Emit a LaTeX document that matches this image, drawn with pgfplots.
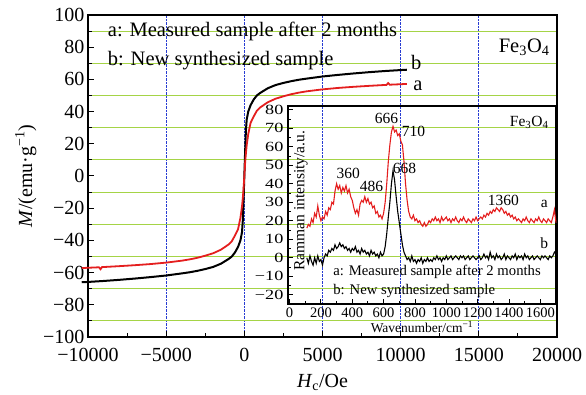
\documentclass[border=0pt]{standalone}
\usepackage{fontspec}
\setmainfont{Liberation Serif}
\usepackage{pgfplots}
\pgfplotsset{compat=1.18}

\definecolor{gridgreen}{RGB}{165,212,70}
\definecolor{gridblue}{RGB}{40,60,210}
\definecolor{curvered}{RGB}{228,30,30}

\newcommand{\fs}[1]{\fontsize{#1}{#1}\selectfont}

% Magnetization loops M(H)
\pgfplotstableread{
H M
-10400 -66.0
-10000 -65.8
-9000 -65.2
-8000 -64.5
-7000 -63.7
-6000 -62.8
-5000 -61.8
-4000 -60.5
-3500 -59.8
-3000 -58.9
-2500 -57.8
-2000 -56.5
-1500 -54.5
-1000 -51.5
-800 -50.0
-600 -47.5
-400 -44.0
-250 -40.0
-150 -35.0
-100 -28.0
-50 -15.0
0 0.0
50 15.0
100 28.0
150 35.0
250 40.0
400 44.0
600 47.5
800 50.0
1000 51.5
1500 54.5
2000 56.5
2500 57.8
3000 58.9
3500 59.8
4000 60.5
5000 61.8
6000 62.8
7000 63.7
8000 64.5
9000 65.2
10000 65.8
10400 66.0
}\loopb

\pgfplotstableread{
H M
-10400 -57.2
-10000 -57.0
-9300 -56.7
-9200 -57.9
-9100 -56.6
-8000 -56.0
-7000 -55.4
-6000 -54.7
-5000 -53.8
-4000 -52.6
-3500 -51.8
-3000 -50.8
-2500 -49.5
-2000 -48.0
-1500 -45.8
-1000 -42.5
-800 -40.5
-600 -37.0
-400 -33.0
-250 -26.0
-150 -19.0
-100 -14.0
-50 -8.0
0 0.0
50 8.0
100 14.0
150 19.0
250 26.0
400 33.0
600 37.0
800 40.5
1000 42.5
1500 45.8
2000 48.0
2500 49.5
3000 50.8
3500 51.8
4000 52.6
5000 53.8
6000 54.7
7000 55.4
8000 56.0
9100 56.6
9200 57.7
9300 56.7
10000 57.0
10400 57.2
}\loopa

% Raman spectra
\pgfplotstableread{
w I
110 16
120 18
130 17
140 21
150 19
160 24
170 22
180 28
190 23
200 20
210 22
220 21
230 25
240 23
250 27
260 26
270 30
280 29
290 36
300 40
310 37
320 39
330 35
340 38
350 36
360 39
370 35
380 37
390 33
400 31
410 27
420 24
430 26
440 23
450 29
460 31
470 30
480 33
490 30
500 32
510 29
520 30
530 27
540 28
550 24
560 25
570 22
580 23
590 21
600 24
610 30
620 40
630 52
640 61
650 68
660 71
670 68
680 69
690 66
700 67
710 63
720 61
730 52
740 40
750 31
760 25
770 22
780 21
790 23
800 20
810 21
820 19
830 20
840 18
850 17
860 19
870 17
880 18
890 20
900 19
910 21
920 20
930 22
940 20
950 21
960 19
970 22
980 20
990 21
1000 22
1010 20
1020 21
1030 19
1040 21
1050 20
1060 22
1070 20
1080 19
1090 21
1100 20
1110 22
1120 20
1130 19
1140 21
1150 20
1160 19
1170 21
1180 20
1190 22
1200 20
1210 21
1220 22
1230 21
1240 23
1250 22
1260 24
1270 23
1280 25
1290 24
1300 26
1310 25
1320 27
1330 26
1340 25
1350 27
1360 26
1370 24
1380 25
1390 23
1400 24
1410 22
1420 23
1430 21
1440 22
1450 20
1460 21
1470 20
1480 19
1490 21
1500 20
1510 22
1520 20
1530 19
1540 21
1550 20
1560 19
1570 21
1580 20
1590 22
1600 20
1610 19
1620 21
1630 20
1640 19
1650 21
1660 20
1670 19
1680 22
1690 26
1700 19
}\ramana

\pgfplotstableread{
w I
110 0
120 -3
130 1
140 -2
150 -4
160 0
170 -3
180 1
190 -2
200 -1
210 -4
220 0
230 2
240 1
250 4
260 3
270 5
280 4
290 7
300 5
310 6
320 8
330 6
340 7
350 5
360 6
370 4
380 5
390 3
400 5
410 4
420 6
430 3
440 4
450 2
460 5
470 3
480 4
490 2
500 3
510 1
520 4
530 2
540 3
550 1
560 2
570 0
580 3
590 1
600 2
610 6
620 13
630 22
640 30
650 40
660 47
670 42
680 33
690 25
700 19
710 13
720 7
730 3
740 1
750 -1
760 0
770 -2
780 1
790 -2
800 -1
810 -3
820 -1
830 -2
840 0
850 -3
860 -1
870 -2
880 0
890 -2
900 -1
910 -2
920 0
930 -1
940 1
950 -1
960 0
970 -2
980 0
990 -1
1000 1
1010 -1
1020 0
1030 1
1040 -1
1050 0
1060 1
1070 0
1080 -1
1090 1
1100 0
1110 1
1120 -1
1130 0
1140 1
1150 -1
1160 0
1170 1
1180 0
1190 -1
1200 0
1210 1
1220 -1
1230 0
1240 2
1250 0
1260 1
1270 -1
1280 3
1290 0
1300 1
1310 -1
1320 2
1330 0
1340 1
1350 -1
1360 0
1370 2
1380 -1
1390 1
1400 0
1410 -1
1420 1
1430 0
1440 2
1450 -1
1460 1
1470 0
1480 1
1490 -1
1500 2
1510 0
1520 1
1530 -1
1540 0
1550 1
1560 -1
1570 0
1580 1
1590 0
1600 -1
1610 1
1620 0
1630 1
1640 0
1650 -1
1660 1
1670 0
1680 1
1690 3
1700 2
}\ramanb

\begin{document}
\begin{tikzpicture}
\useasboundingbox (-88pt,-58pt) rectangle (498pt,337pt);

% main panel: magnetization curves
\begin{axis}[
  at={(0pt,0pt)}, anchor=south west,
  scale only axis, width=469pt, height=322pt,
  xmin=-10000, xmax=20000, ymin=-100, ymax=100,
  scaled x ticks=false, scaled y ticks=false,
  xtick={-10000,-5000,0,5000,10000,15000,20000},
  xticklabels={−10000,−5000,0,5000,10000,15000,20000},
  ytick={-100,-80,-60,-40,-20,0,20,40,60,80,100},
  yticklabels={−100,−80,−60,−40,−20,0,20,40,60,80,100},
  minor x tick num=1, minor y tick num=1,
  tick pos=left, tick align=inside,
  major tick length=6pt, minor tick length=4pt,
  xmajorgrids, yminorgrids,
  x grid style={gridblue, densely dotted, line width=0.7pt},
  y grid style={gridgreen, line width=1.1pt},
  axis line style={line width=1.2pt},
  every tick/.style={black, line width=1pt},
  ticklabel style={font=\fs{20}},
  xticklabel style={inner ysep=0.5pt, yshift=-11pt},
  yticklabel style={inner ysep=0.5pt},
  label style={font=\fs{20}},
  xlabel={\textit{H}\textsubscript{c}/Oe},
  xlabel style={yshift=-8pt},
  ylabel={\textit{M}/(emu·g\textsuperscript{−1})},
  clip=false,
]
\addplot[black, line width=2pt] table[x=H, y=M] {\loopb};
\addplot[curvered, line width=1.8pt] table[x=H, y=M] {\loopa};
\node[font=\fs{20.5}, anchor=west] at (axis cs:-8950,89.6) {a: Measured sample after 2 months};
\node[font=\fs{20.5}, anchor=west] at (axis cs:-8950,71.5) {b: New synthesized sample};
\node[font=\fs{20.5}] at (axis cs:17900,80) {Fe\textsubscript{3}O\textsubscript{4}};
\node[font=\fs{20.5}] at (axis cs:11000,70.5) {b};
\node[font=\fs{20.5}] at (axis cs:11100,56) {a};
\end{axis}

% inset: Raman spectra
\begin{axis}[
  at={(200pt,33pt)}, anchor=south west,
  scale only axis, width=268pt, height=198pt,
  xmin=-10, xmax=1700, ymin=-25, ymax=82,
  scaled x ticks=false,
  xtick={0,200,400,600,800,1000,1200,1400,1600},
  xticklabels={0,200,400,600,800,1000,1200,1400,1600},
  ytick={-20,-10,0,10,20,30,40,50,60,70,80},
  yticklabels={−20,−10,0,10,20,30,40,50,60,70,80},
  minor x tick num=1, minor y tick num=1,
  tick pos=left, tick align=inside,
  major tick length=5pt, minor tick length=3pt,
  axis line style={line width=1.2pt},
  every tick/.style={black, line width=0.9pt},
  xticklabel style={font=\fs{14.5}},
  yticklabel style={font=\fs{14}, xscale=1.3},
  xlabel={Wavenumber/cm\textsuperscript{−1}},
  xlabel style={font=\fs{13.5}, yshift=3pt},
  clip=false,
]
\addplot[curvered, line width=1.1pt] table[x=w, y=I] {\ramana};
\addplot[black, line width=1.1pt] table[x=w, y=I] {\ramanb};
\node[font=\fs{15.5}, rotate=90] at (axis cs:72,30.8) {Ramman intensity/a.u.};
\node[font=\fs{15.5}] at (axis cs:618,75.5) {666};
\node[font=\fs{15.5}] at (axis cs:790,68) {710};
\node[font=\fs{15.5}] at (axis cs:734,48.1) {668};
\node[font=\fs{15.5}] at (axis cs:375,45.6) {360};
\node[font=\fs{15.5}] at (axis cs:523,38.3) {486};
\node[font=\fs{15.5}] at (axis cs:1364,30.8) {1360};
\node[font=\fs{15.5}] at (axis cs:1625,29) {a};
\node[font=\fs{15.5}] at (axis cs:1625,8) {b};
\node[font=\fs{15.5}] at (axis cs:1529,73.3) {Fe\textsubscript{3}O\textsubscript{4}};
\node[font=\fs{14.7}, anchor=west] at (axis cs:257,-7.7) {a: Measured sample after 2 months};
\node[font=\fs{14.7}, anchor=west] at (axis cs:257,-17.9) {b: New synthesized sample};
\end{axis}
\end{tikzpicture}
\end{document}
